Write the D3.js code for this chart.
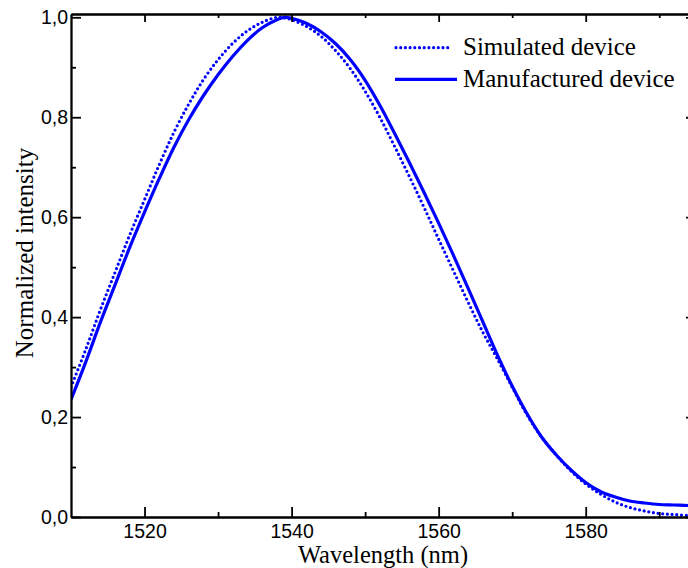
<!DOCTYPE html>
<html>
<head>
<meta charset="utf-8">
<script src="https://cdn.jsdelivr.net/npm/d3@7"></script>
<style>
    body { margin: 0; background: #fff; }
    svg { display: block; }
</style>
</head>
<body>
<div id="chart"></div>
<script>
// wavelength grid (nm)
let wavelengths = [1510, 1512, 1514, 1516, 1518, 1520, 1522, 1524, 1526, 1528, 1530, 1532, 1534, 1536, 1538, 1539,
    1540, 1542, 1544, 1546, 1548, 1550, 1552, 1554, 1556, 1558, 1560, 1562, 1564, 1566, 1568, 1570,
    1572, 1574, 1576, 1578, 1580, 1582, 1584, 1586, 1588, 1590, 1592, 1594, 1595];

let simulated = [0.26, 0.335, 0.415, 0.49, 0.565, 0.635, 0.705, 0.77, 0.826, 0.875, 0.915, 0.948, 0.973, 0.99, 1.0, 0.999,
    0.995, 0.982, 0.962, 0.933, 0.897, 0.852, 0.800, 0.742, 0.682, 0.620, 0.556, 0.493, 0.430, 0.370, 0.316, 0.260,
    0.205, 0.160, 0.124, 0.092, 0.066, 0.046, 0.030, 0.019, 0.012, 0.007, 0.005, 0.003, 0.003];

let manufactured = [0.235, 0.31, 0.39, 0.465, 0.54, 0.61, 0.677, 0.74, 0.795, 0.843, 0.885, 0.922, 0.954, 0.979, 0.995, 1.0,
    0.998, 0.988, 0.971, 0.947, 0.915, 0.874, 0.824, 0.768, 0.710, 0.650, 0.588, 0.524, 0.458, 0.391, 0.324, 0.262,
    0.207, 0.160, 0.124, 0.094, 0.069, 0.051, 0.040, 0.032, 0.028, 0.025, 0.024, 0.023, 0.023];

let xMajor = [1520, 1540, 1560, 1580];
let xMinor = [1530, 1550, 1570, 1590];
let yMajor = [0, 0.2, 0.4, 0.6, 0.8, 1.0];
let yMinor = [0.1, 0.3, 0.5, 0.7, 0.9];
let seriesNames = ["Simulated device", "Manufactured device"];

let width = 688, height = 568;
let margin = {top: 14, right: -8, bottom: 51, left: 71};

let svg = d3.select("#chart").append("svg")
    .attr("width", width)
    .attr("height", height);

let x = d3.scaleLinear()
    .domain([1510, 1595])
    .range([margin.left, width - margin.right]);

let y = d3.scaleLinear()
    .domain([0, 1.0066])
    .range([height - margin.bottom, margin.top]);

let fmt = d3.format(".1f");
let comma = d => fmt(d).replace(".", ",");

svg.append("defs").append("clipPath")
    .attr("id", "clip")
    .append("rect")
    .attr("x", margin.left)
    .attr("y", margin.top)
    .attr("width", width - margin.right - margin.left)
    .attr("height", height - margin.bottom - margin.top);

// curves
let line = (vals) => d3.line()
    .x((d, i) => x(wavelengths[i]))
    .y(d => y(d))
    .curve(d3.curveCatmullRom)(vals);

let plot = svg.append("g").attr("clip-path", "url(#clip)");

plot.append("path")
    .attr("d", line(simulated))
    .attr("fill", "none")
    .attr("stroke", "#0000ff")
    .attr("stroke-width", 3.2)
    .attr("stroke-linecap", "round")
    .attr("stroke-dasharray", "0 4.7");

plot.append("path")
    .attr("d", line(manufactured))
    .attr("fill", "none")
    .attr("stroke", "#0000ff")
    .attr("stroke-width", 3.2);

// axes (ticks inside, mirrored)
let x0 = height - margin.bottom, yTop = margin.top;
let axisStyle = g => {
    g.select(".domain").attr("stroke", "#000").attr("stroke-width", 1.8);
    g.selectAll(".tick line").attr("stroke", "#000").attr("stroke-width", 1.8);
    g.selectAll("text")
        .attr("font-family", "'Liberation Sans', Arial, sans-serif")
        .attr("font-size", "19.5px")
        .attr("fill", "#000");
};

svg.append("g")
    .attr("transform", `translate(0,${x0})`)
    .call(d3.axisBottom(x).tickValues(xMajor).tickSize(-10).tickPadding(3).tickFormat(d3.format("d")).tickSizeOuter(0))
    .call(axisStyle)
    .selectAll("text").attr("dy", "0.9em");

svg.append("g")
    .attr("transform", `translate(0,${x0})`)
    .call(d3.axisBottom(x).tickValues(xMinor).tickSize(-5).tickFormat("").tickSizeOuter(0))
    .call(axisStyle);

svg.append("g")
    .attr("transform", `translate(0,${yTop})`)
    .call(d3.axisTop(x).tickValues(xMajor).tickSize(-8).tickFormat("").tickSizeOuter(0))
    .call(axisStyle);

svg.append("g")
    .attr("transform", `translate(0,${yTop})`)
    .call(d3.axisTop(x).tickValues(xMinor).tickSize(-4).tickFormat("").tickSizeOuter(0))
    .call(axisStyle);

svg.append("g")
    .attr("transform", `translate(${margin.left},0)`)
    .call(d3.axisLeft(y).tickValues(yMajor).tickSize(-10).tickPadding(3).tickFormat(comma).tickSizeOuter(0))
    .call(axisStyle);

svg.append("g")
    .attr("transform", `translate(${margin.left},0)`)
    .call(d3.axisLeft(y).tickValues(yMinor).tickSize(-5).tickFormat("").tickSizeOuter(0))
    .call(axisStyle);

svg.append("g")
    .attr("transform", `translate(${width - margin.right},0)`)
    .call(d3.axisRight(y).tickValues(yMajor).tickSize(-10).tickFormat("").tickSizeOuter(0))
    .call(axisStyle);

svg.append("g")
    .attr("transform", `translate(${width - margin.right},0)`)
    .call(d3.axisRight(y).tickValues(yMinor).tickSize(-5).tickFormat("").tickSizeOuter(0))
    .call(axisStyle);

// axis titles
svg.append("text")
    .attr("x", 383)
    .attr("y", 563)
    .attr("text-anchor", "middle")
    .attr("font-family", "'Liberation Serif', 'Times New Roman', serif")
    .attr("font-size", "24.5px")
    .text("Wavelength (nm)");

svg.append("text")
    .attr("transform", "translate(33,253) rotate(-90)")
    .attr("text-anchor", "middle")
    .attr("font-family", "'Liberation Serif', 'Times New Roman', serif")
    .attr("font-size", "25px")
    .text("Normalized intensity");

// legend
let legend = svg.append("g");
let legendY = [47.7, 79.3];
legend.append("line")
    .attr("x1", 396).attr("x2", 452)
    .attr("y1", legendY[0]).attr("y2", legendY[0])
    .attr("stroke", "#0000ff")
    .attr("stroke-width", 3.2)
    .attr("stroke-linecap", "round")
    .attr("stroke-dasharray", "0 4.7");
legend.append("line")
    .attr("x1", 395).attr("x2", 457)
    .attr("y1", legendY[1]).attr("y2", legendY[1])
    .attr("stroke", "#0000ff")
    .attr("stroke-width", 3.2);

legend.selectAll("text")
    .data(seriesNames)
    .enter()
    .append("text")
    .attr("x", 463)
    .attr("y", (d, i) => legendY[i] + 7.5)
    .attr("font-family", "'Liberation Serif', 'Times New Roman', serif")
    .attr("font-size", "25px")
    .attr("fill", "#000")
    .text(d => d);
</script>
</body>
</html>
